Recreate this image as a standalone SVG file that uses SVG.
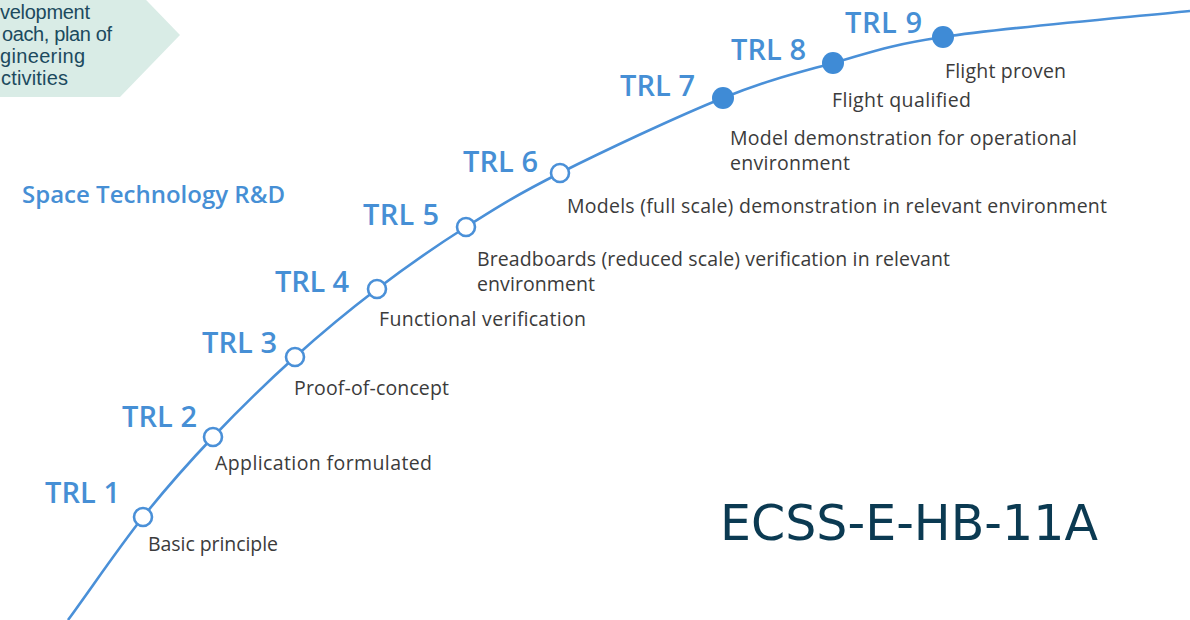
<svg xmlns="http://www.w3.org/2000/svg" width="1190" height="620" viewBox="0 0 1190 620">
  <style>
    .trl { font-family: "Open Sans", "Liberation Sans", sans-serif; font-weight: 600; font-size: 29px; fill: #468fd5; }
    .desc { font-family: "Open Sans", "Liberation Sans", sans-serif; font-weight: 500; font-size: 19.5px; fill: #3b3b3b; }
    .open { fill: #ffffff; stroke: #4a90d8; stroke-width: 2.6; }
    .solid { fill: #3f8bd6; stroke: none; }
    .curve { fill: none; stroke: #4a90d8; stroke-width: 2.6; }
    .box { fill: #d9ece6; }
    .boxtxt { font-family: "Liberation Sans", Arial, sans-serif; font-size: 20px; fill: #1c4a5e; }
  </style>
  <rect width="1190" height="620" fill="#ffffff"/>

  <g id="approach-box">
    <polygon class="box" points="-10,-27 120,-27 180,35 120,97 -10,97"/>
    <text class="boxtxt" x="0" y="19" textLength="90">velopment</text>
    <text class="boxtxt" x="2" y="41" textLength="110">oach, plan of</text>
    <text class="boxtxt" x="0" y="63" textLength="85">gineering</text>
    <text class="boxtxt" x="1" y="85" textLength="67">ctivities</text>
  </g>

  <g id="connectors">
    <path class="curve" d="M68,620 C93,585.7 118.8,547.5 143,517 C167.2,486.5 187.7,463.7 213,437 C238.3,410.3 267.7,381.7 295,357 C322.3,332.3 348.5,310.7 377,289 C405.5,267.3 435.5,246.3 466,227 C496.5,207.7 517.2,194.5 560,173 C602.8,151.5 677.5,116.3 723,98 C768.5,79.7 796.3,73.2 833,63 C869.7,52.8 885.2,45.7 943,37 C1000.8,28.3 1101,19.7 1190,11"/>
  </g>

  <g id="title">
    <text x="22" y="203" textLength="263" style="font-family:'Open Sans','Liberation Sans',sans-serif;font-weight:600;font-size:24px;fill:#468fd5">Space Technology R&amp;D</text>
  </g>

  <g id="trl1">
    <circle class="open" cx="143" cy="517" r="9"/>
    <text class="trl" x="45" y="503" textLength="75">TRL 1</text>
    <text class="desc" x="148" y="551" textLength="130">Basic principle</text>
  </g>
  <g id="trl2">
    <circle class="open" cx="213" cy="437" r="9"/>
    <text class="trl" x="122" y="427" textLength="75">TRL 2</text>
    <text class="desc" x="215" y="470" textLength="217">Application formulated</text>
  </g>
  <g id="trl3">
    <circle class="open" cx="295" cy="357" r="9"/>
    <text class="trl" x="202" y="353" textLength="75">TRL 3</text>
    <text class="desc" x="294" y="395" textLength="155">Proof-of-concept</text>
  </g>
  <g id="trl4">
    <circle class="open" cx="377" cy="289" r="9"/>
    <text class="trl" x="275" y="292" textLength="74">TRL 4</text>
    <text class="desc" x="379" y="326" textLength="207">Functional verification</text>
  </g>
  <g id="trl5">
    <circle class="open" cx="466" cy="227" r="9"/>
    <text class="trl" x="363" y="225" textLength="76">TRL 5</text>
    <text class="desc" x="477" y="266" textLength="473">Breadboards (reduced scale) verification in relevant</text>
    <text class="desc" x="477" y="291" textLength="118">environment</text>
  </g>
  <g id="trl6">
    <circle class="open" cx="560" cy="173" r="9"/>
    <text class="trl" x="463" y="172" textLength="75">TRL 6</text>
    <text class="desc" x="567" y="213" textLength="540">Models (full scale) demonstration in relevant environment</text>
  </g>
  <g id="trl7">
    <circle class="solid" cx="723" cy="98" r="11"/>
    <text class="trl" x="620" y="96" textLength="75">TRL 7</text>
    <text class="desc" x="730" y="145" textLength="347">Model demonstration for operational</text>
    <text class="desc" x="730" y="170" textLength="120">environment</text>
  </g>
  <g id="trl8">
    <circle class="solid" cx="833" cy="63" r="11"/>
    <text class="trl" x="731" y="60" textLength="75">TRL 8</text>
    <text class="desc" x="832" y="107" textLength="139">Flight qualified</text>
  </g>
  <g id="trl9">
    <circle class="solid" cx="943" cy="37" r="11"/>
    <text class="trl" x="845" y="33" textLength="77">TRL 9</text>
    <text class="desc" x="945" y="78" textLength="121">Flight proven</text>
  </g>

  <g id="standard">
    <text x="720" y="540" textLength="378" style="font-family:'DejaVu Sans',Verdana,sans-serif;font-size:49px;fill:#0b3a52">ECSS-E-HB-11A</text>
  </g>
</svg>
